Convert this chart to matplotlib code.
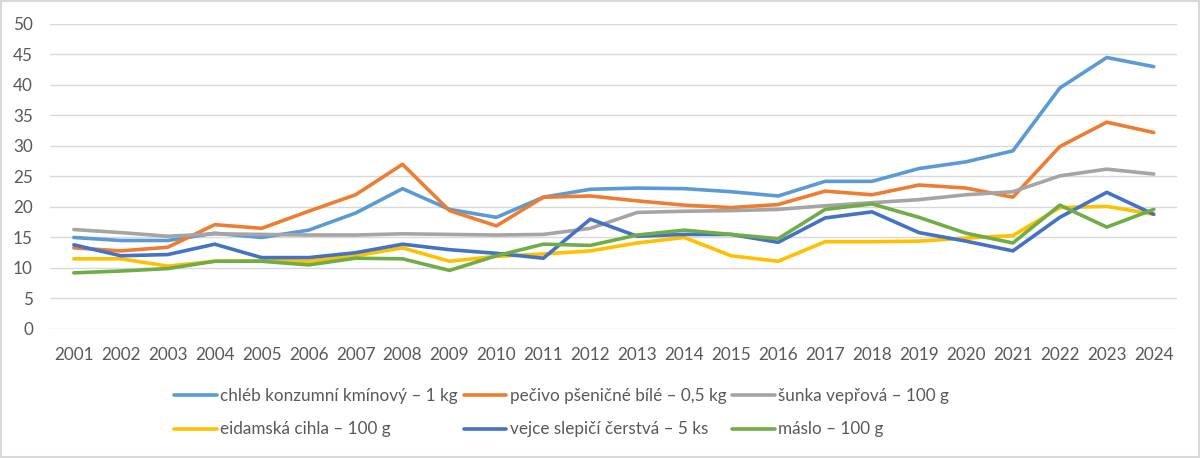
import matplotlib.pyplot as plt
from matplotlib.patches import Rectangle

plt.rcParams['font.family'] = ['Lato', 'DejaVu Sans']

roky = list(range(2001, 2025))

chleb = [15.0, 14.5, 14.5, 15.7, 15.0, 16.2, 19.0, 23.0, 19.6, 18.3, 21.6, 22.9,
         23.1, 23.0, 22.5, 21.8, 24.2, 24.2, 26.3, 27.4, 29.2, 39.5, 44.5, 43.0]
pecivo = [13.3, 12.8, 13.4, 17.1, 16.5, 19.3, 22.0, 27.0, 19.4, 16.9, 21.6, 21.8,
          21.0, 20.3, 19.9, 20.4, 22.6, 22.0, 23.6, 23.1, 21.6, 29.9, 33.9, 32.2]
sunka = [16.3, 15.8, 15.2, 15.6, 15.5, 15.4, 15.4, 15.6, 15.5, 15.4, 15.5, 16.5,
         19.1, 19.3, 19.4, 19.6, 20.2, 20.7, 21.2, 22.0, 22.5, 25.1, 26.2, 25.4]
eidam = [11.5, 11.5, 10.3, 11.1, 11.2, 11.1, 12.0, 13.3, 11.1, 11.9, 12.3, 12.8,
         14.1, 15.0, 12.0, 11.1, 14.3, 14.3, 14.4, 14.9, 15.3, 19.9, 20.1, 18.8]
vejce = [13.8, 12.0, 12.2, 13.9, 11.7, 11.7, 12.5, 13.9, 13.0, 12.4, 11.6, 18.0,
         15.2, 15.5, 15.5, 14.2, 18.2, 19.2, 15.8, 14.4, 12.8, 18.3, 22.4, 18.8]
maslo = [9.2, 9.5, 9.9, 11.1, 11.1, 10.5, 11.6, 11.5, 9.6, 12.0, 13.9, 13.7,
         15.4, 16.2, 15.5, 14.8, 19.6, 20.5, 18.3, 15.7, 14.1, 20.3, 16.7, 19.6]

nazvy = ['chléb konzumní kmínový – 1 kg', 'pečivo pšeničné bílé – 0,5 kg',
         'šunka vepřová – 100 g', 'eidamská cihla – 100 g',
         'vejce slepičí čerstvá – 5 ks', 'máslo – 100 g']
barvy = ['#5B9BD5', '#ED7D31', '#A5A5A5', '#FFC000', '#4472C4', '#70AD47']
rady = [chleb, pecivo, sunka, eidam, vejce, maslo]

fig = plt.figure(figsize=(12, 4.58), dpi=100)
ax = fig.add_axes([0.042, 0.2817, 0.939, 0.666])

cary = {}
for nazev, barva, data in zip(nazvy, barvy, rady):
    cary[nazev], = ax.plot(roky, data, color=barva, lw=2.6, label=nazev,
                           solid_capstyle='round', solid_joinstyle='round')

ax.set_xlim(2000.5, 2024.5)
ax.set_ylim(0, 50)
ax.set_yticks(range(0, 51, 5))
ax.set_xticks(roky)
ax.grid(axis='y', color='#d9d9d9', lw=1)
ax.set_axisbelow(True)
for s in ax.spines.values():
    s.set_visible(False)
ax.tick_params(length=0, labelsize=12.3, colors='#595959')
ax.tick_params(axis='x', pad=13)
ax.tick_params(axis='y', pad=12.6)

# poradi po sloupcich, aby radky odpovidaly originalu
poradi = [0, 3, 1, 4, 2, 5]
fig.legend([cary[nazvy[i]] for i in poradi], [nazvy[i] for i in poradi],
           ncol=3, loc='center', bbox_to_anchor=(0.468, 0.0993), frameon=False,
           fontsize=12.3, labelcolor='#595959', handlelength=2.5,
           handletextpad=0.2, columnspacing=0.35, labelspacing=1.05)

fig.patches.append(Rectangle((0.001, 0.002), 0.998, 0.996, transform=fig.transFigure,
                             fill=False, edgecolor='#d9d9d9', lw=1.5))

fig.savefig('out.png', dpi=100)
